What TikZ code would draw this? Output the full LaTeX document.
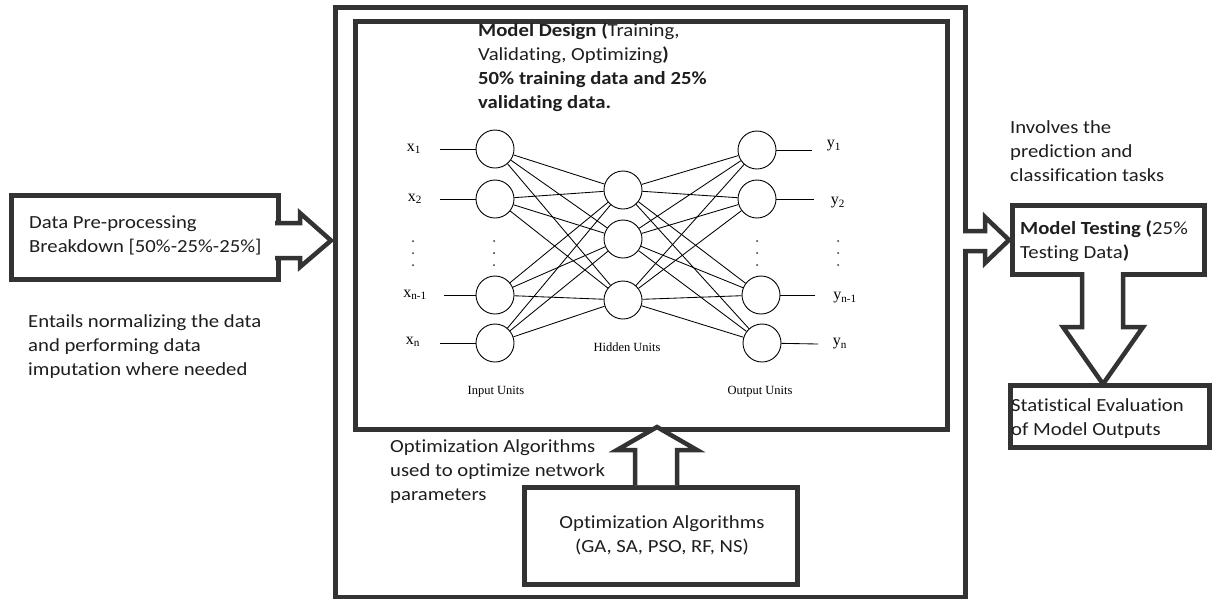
\documentclass[tikz,border=0pt]{standalone}
\usepackage{fontspec}
\setmainfont[FakeStretch=1.12,Ligatures={NoCommon}]{Carlito}
\newfontfamily\tnr{Liberation Serif}
\usetikzlibrary{calc}
\definecolor{frm}{HTML}{333333}
\definecolor{txt}{HTML}{1E1E1E}
\begin{document}
\begin{tikzpicture}[x=1pt,y=-1pt,
  box/.style={draw=frm,line width=5pt,fill=white,inner sep=0pt},
  blockarrow/.style={draw=frm,line width=4.5pt,fill=white,line join=miter},
  lbl/.style={anchor=base west,inner sep=0pt,align=left,text=txt,font=\fontsize{18.5}{24}\selectfont},
  unit/.style={draw=black,circle,line width=0.9pt,minimum size=38pt,inner sep=0pt},
  wire/.style={draw=black,line width=0.85pt},
  nn/.style={inner sep=0pt,font=\tnr\fontsize{16}{16}\selectfont},
  unitcaption/.style={inner sep=0pt,font=\tnr\fontsize{12.5}{14}\selectfont}]
\useasboundingbox (0,0) rectangle (1214,598);
\fill[white] (0,0) rectangle (1214,598);

% outer and inner frames
\node[box,minimum width=630pt,minimum height=590pt,anchor=north west] (outer) at (333,5) {};
\node[box,minimum width=592pt,minimum height=408pt,anchor=north west] (inner) at (353,19) {};

% left box (base anchor = last line's baseline)
\node[box,minimum width=267pt,minimum height=84pt,anchor=north west] (pre) at (9,193) {};
\node[lbl] (pretxt) at (29,252) {Data Pre-processing\\Breakdown [50\%-25\%-25\%]};
\node[lbl] (entails) at (28,375) {Entails normalizing the data\\and performing data\\imputation where needed};

% model design text
\node[lbl] (design) at (478,108) {\textbf{Model Design (}Training,\\Validating, Optimizing\textbf{)}\\\textbf{50\% training data and 25\%}\\\textbf{validating data.}};

% right side
\node[lbl] (involves) at (1010,181) {Involves the\\prediction and\\classification tasks};
\node[box,minimum width=192pt,minimum height=69pt,anchor=north west] (test) at (1010,203) {};
\node[lbl] (testtxt) at (1020,258) {\textbf{Model Testing (}25\%\\Testing Data\textbf{)}};
\node[box,minimum width=199pt,minimum height=62pt,anchor=north west] (stat) at (1008,383) {};
\node[lbl] (stattxt) at (1011,435) {Statistical Evaluation\\of Model Outputs};

% optimization
\node[lbl] (opttxt) at (390,500) {Optimization Algorithms\\used to optimize network\\parameters};
\node[box,minimum width=273pt,minimum height=97pt,anchor=north west] (opt) at (522,485) {};
\node[lbl,align=center,anchor=base] (optbox) at (662,552) {Optimization Algorithms\\(GA, SA, PSO, RF, NS)};

% block arrows
\draw[blockarrow] (275,223) -- (300,223) -- (300,213) -- (331,240.5) -- (300,267) -- (300,258) -- (275,258);
\draw[blockarrow] (963,231) -- (985,231) -- (985,217) -- (1009,240) -- (985,263) -- (985,251) -- (963,251);
\draw[blockarrow] (1082,272) -- (1082,327) -- (1063,327) -- (1103,384) -- (1143,327) -- (1123,327) -- (1123,272);
\draw[blockarrow] (635,485) -- (635,450) -- (617,450) -- (657,427) -- (697,450) -- (677,450) -- (677,485);

% neural network
\foreach \n/\yy in {1/149,2/199,3/295,4/343}
  \node[unit] (i\n) at (495,\yy) {};
\foreach \n/\yy in {1/190,2/239,3/300}
  \node[unit] (h\n) at (623,\yy) {};
\node[unit] (o1) at (757,150) {};
\node[unit] (o2) at (757,199) {};
\node[unit] (o3) at (761,295) {};
\node[unit] (o4) at (762,343) {};

\foreach \a in {1,...,4}
  \foreach \b in {1,2,3}
    \draw[wire] (i\a) -- (h\b);
\foreach \b in {1,2,3}
  \foreach \a in {1,...,4}
    \draw[wire] (h\b) -- (o\a);

% input labels and wires
\node[nn] (x1) at (414,149) {x\textsubscript{1}};
\node[nn] (x2) at (415,199) {x\textsubscript{2}};
\node[nn] (x3) at (415,295) {x\textsubscript{n-1}};
\node[nn] (x4) at (413,342) {x\textsubscript{n}};
\coordinate (xs1) at (440,149);
\coordinate (xs2) at (440,199);
\coordinate (xs3) at (444,295);
\coordinate (xs4) at (440,343);
\foreach \n in {1,...,4} \draw[wire] (xs\n) -- (i\n);

% output labels and wires
\node[nn] (y1) at (834,146) {y\textsubscript{1}};
\node[nn] (y2) at (838,203) {y\textsubscript{2}};
\node[nn] (y3) at (845,298) {y\textsubscript{n-1}};
\node[nn] (y4) at (840,344) {y\textsubscript{n}};
\coordinate (ys1) at (812,150);
\coordinate (ys2) at (814,199);
\coordinate (ys3) at (815,295);
\coordinate (ys4) at (818,344);
\foreach \n in {1,...,4} \draw[wire] (o\n) -- (ys\n);

% vertical dots
\foreach \xx in {413,494,757,838}
  \foreach \yy in {241,253,265}
    \fill[black!80] (\xx,\yy) circle (1pt);

% captions
\node[unitcaption] (hid) at (627,347) {Hidden Units};
\node[unitcaption] (inu) at (496,392) {Input Units};
\node[unitcaption] (outu) at (760,392) {Output Units};
\end{tikzpicture}
\end{document}
